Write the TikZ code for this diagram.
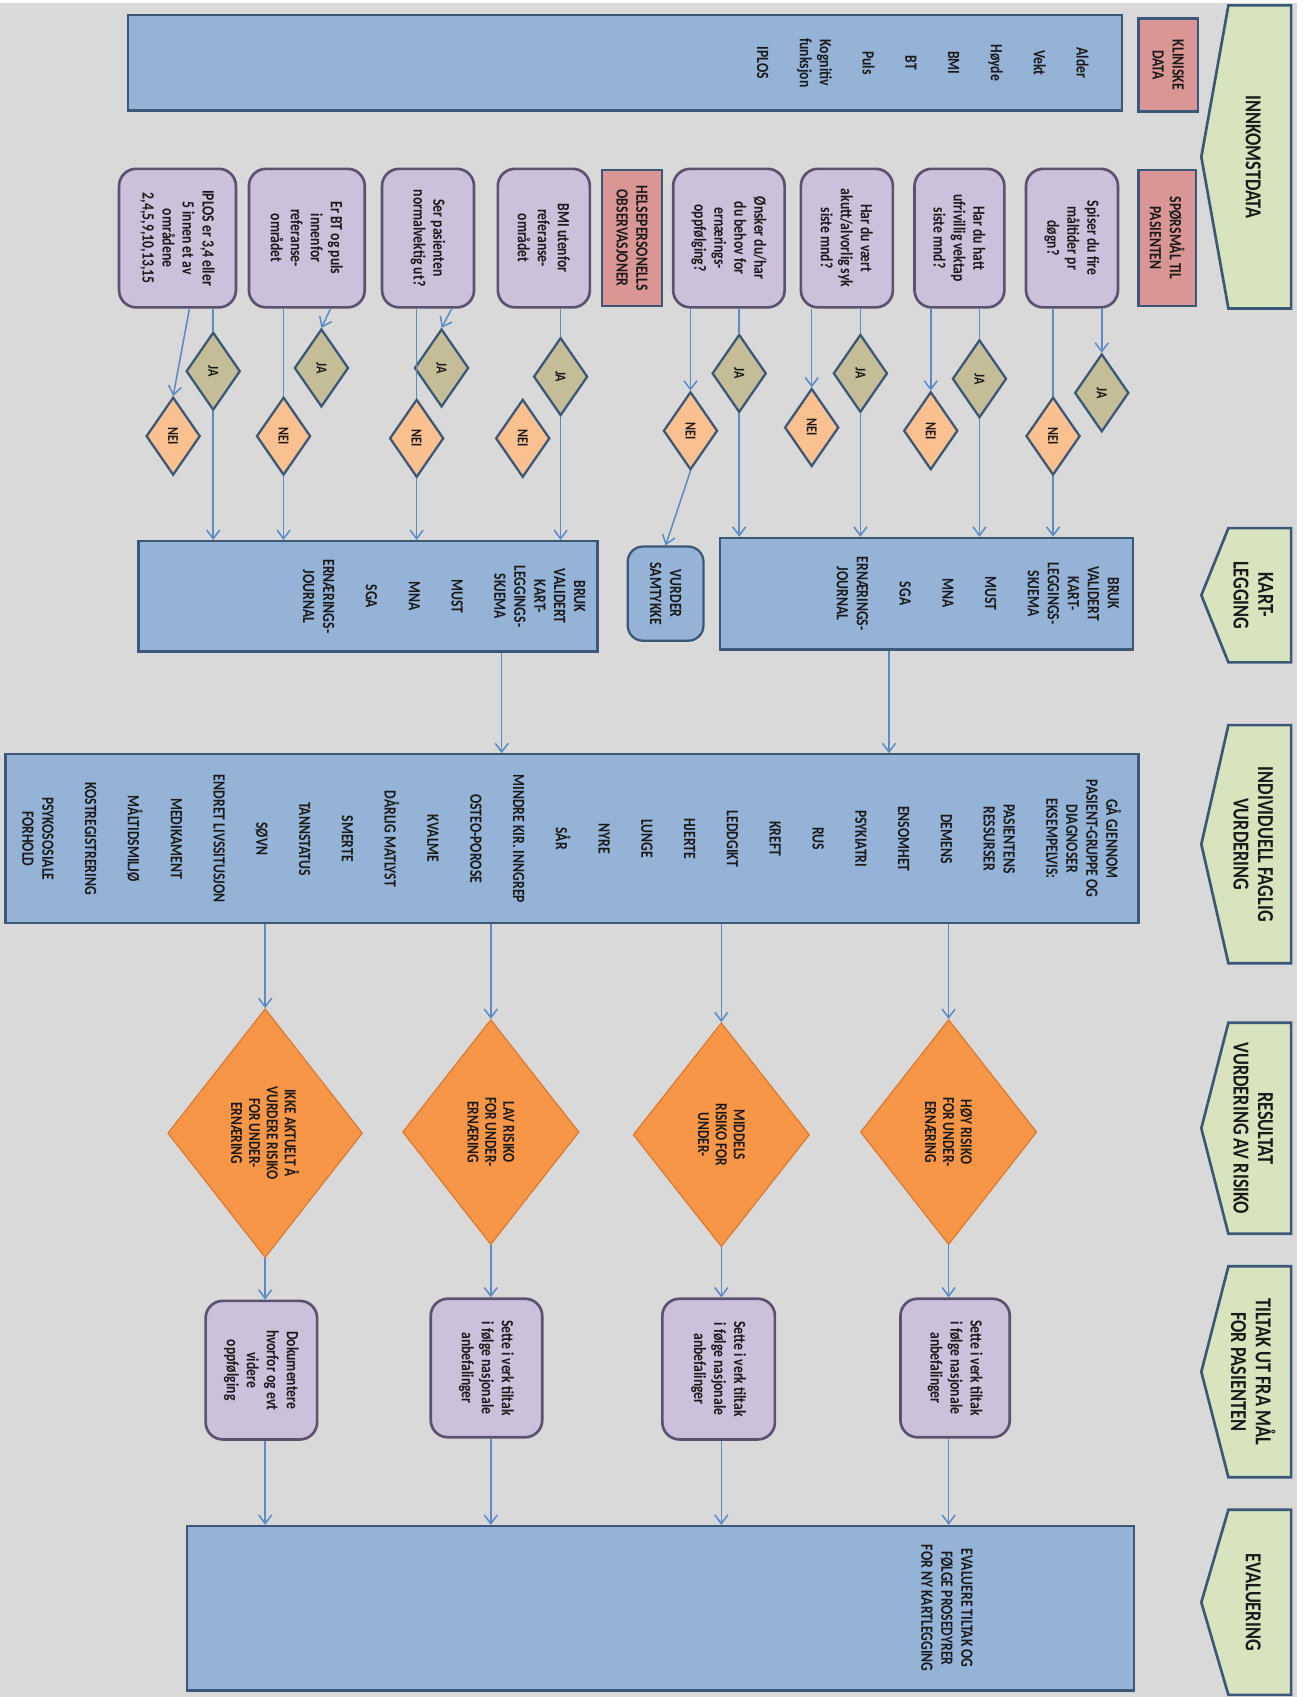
\documentclass[tikz,border=0pt]{standalone}
\usepackage{fontspec}
\newfontfamily\chartfont{Carlito}[FakeStretch=0.8]
\usetikzlibrary{positioning,arrows.meta,shapes.geometric,calc}
\definecolor{bg}{HTML}{D9D9D9}
\definecolor{edge}{HTML}{3B5878}
\definecolor{hdrfill}{HTML}{D7E4BD}
\definecolor{boxfill}{HTML}{95B3D7}
\definecolor{redfill}{HTML}{D99694}
\definecolor{qfill}{HTML}{CCC1DA}
\definecolor{qedge}{HTML}{5B5270}
\definecolor{jafill}{HTML}{C4BD97}
\definecolor{neifill}{HTML}{FAC090}
\definecolor{riskfill}{HTML}{F79646}
\definecolor{riskedge}{HTML}{D9782F}
\definecolor{wire}{HTML}{5B8BC6}
\definecolor{ink}{HTML}{1A1A1A}
\newcommand{\ngap}{\\[12pt]}
\tikzset{
  >={Straight Barb[length=1.6mm,width=2.4mm]},
  txt/.style={font=\chartfont\bfseries\fontsize{9}{10.5}\selectfont, text=ink, align=center},
  boxsize/.style 2 args={minimum width=#1*0.02cm, minimum height=#2*0.02cm},
  hdr/.style={draw=edge, line width=1.4pt, fill=hdrfill},
  hdrtxt/.style={font=\chartfont\bfseries\fontsize{12}{13}\selectfont, text=ink, align=center},
  datbox/.style={draw=edge, line width=1.2pt, fill=boxfill, inner sep=0pt},
  redbox/.style={txt, draw=edge, line width=1.2pt, fill=redfill, inner sep=0pt},
  qbox/.style={txt, draw=qedge, line width=1.4pt, fill=qfill, rounded corners=9pt, inner sep=0pt},
  ja/.style={diamond, txt, draw=edge, line width=1.2pt, fill=jafill, inner sep=0pt,
             boxsize={72}{50}, font=\chartfont\bfseries\fontsize{8}{9}\selectfont},
  nei/.style={ja, fill=neifill},
  risk/.style={diamond, txt, fill=riskfill, draw=riskedge, line width=0.6pt, inner sep=0pt,
               font=\chartfont\bfseries\fontsize{8.8}{9.4}\selectfont},
  con/.style={draw=wire, line width=0.8pt},
  arr/.style={con, ->},
}
\begin{document}
\begin{tikzpicture}[x=0.02cm, y=0.02cm]
\begin{scope}[rotate=-90, transform shape]
  \useasboundingbox (0,0) rectangle (1568,1207);
  \fill[white] (0,0) rectangle (1568,1207);
  \fill[bg] (3,0) rectangle (1568,1198);
  % phase headers
  \foreach \a/\b/\t [count=\i] in {5/285/INNKOMSTDATA, 488/612/{KART-\\LEGGING},
      670/890/{INDIVIDUELL FAGLIG\\VURDERING}, 945/1140/{RESULTAT\\VURDERING AV RISIKO},
      1170/1365/{TILTAK UT FRA MÅL\\FOR PASIENTEN}, 1395/1566/EVALUERING}{
    \draw[hdr] (\a,1193) -- (\b,1193) -- (\b,1135) -- ({(\a+\b)/2},1110) -- (\a,1135) -- cycle;
    \node[hdrtxt] (hd\i) at ({(\a+\b)/2},1158) {\t};
  }
  % innkomstdata
  \node[redbox, boxsize={86}{55}] (kd) at (60,1079.5) {KLINISKE\\DATA};
  \node[datbox, boxsize={88}{919}] (klin) at (58,577.5) {};
  \node[txt, anchor=north] (klint) at (58,1012) {Alder\ngap Vekt\ngap Høyde\ngap BMI\ngap BT\ngap Puls\ngap Kognitiv\\funksjon\ngap IPLOS};
  \node[redbox, boxsize={126}{53}] (sp) at (220,1078.5) {SPØRSMÅL TIL\\PASIENTEN};
  \node[qbox, boxsize={128}{85}] (q1) at (220,990.5) {Spiser du fire\\måltider pr\\døgn?};
  \node[qbox, boxsize={128}{83}] (q2) at (220,886.5) {Har du hatt\\ufrivillig vektap\\siste mnd?};
  \node[qbox, boxsize={128}{85}] (q3) at (220,782.5) {Har du vært\\akutt/alvorlig syk\\siste mnd?};
  \node[qbox, boxsize={128}{103}] (q4) at (220,673.5) {Ønsker du/har\\du behov for\\ernærings-\\oppfølging?};
  \node[redbox, boxsize={126}{56}] (ho) at (220,584) {HELSEPERSONELLS\\OBSERVASJONER};
  \node[qbox, boxsize={128}{85}] (q5) at (220,502.5) {BMI utenfor\\referanse-\\området};
  \node[qbox, boxsize={128}{85}] (q6) at (220,395.5) {Ser pasienten\\normalvektig ut?};
  \node[qbox, boxsize={128}{107}] (q7) at (220,283.5) {Er BT og puls\\innenfor\\referanse-\\området};
  \node[qbox, boxsize={128}{108}] (q8) at (220,164) {IPLOS er 3,4 eller\\5 innen et av\\områdene\\2,4,5,9,10,13,15};
  % svar
  \node[ja] (ja1) at (363,1018) {JA};
  \node[nei] (ne1) at (403,973) {NEI};
  \node[ja] (ja2) at (350,905) {JA};
  \node[nei] (ne2) at (398,860) {NEI};
  \node[ja] (ja3) at (345,795) {JA};
  \node[nei] (ne3) at (395,750) {NEI};
  \node[ja] (ja4) at (345,683) {JA};
  \node[nei] (ne4) at (398,638) {NEI};
  \node[ja] (ja5) at (348,518) {JA};
  \node[nei] (ne5) at (405,483) {NEI};
  \node[ja] (ja6) at (340,408) {JA};
  \node[nei] (ne6) at (405,385) {NEI};
  \node[ja] (ja7) at (340,297) {JA};
  \node[nei] (ne7) at (403,262) {NEI};
  \node[ja] (ja8) at (343,197) {JA};
  \node[nei] (ne8) at (403,160) {NEI};
  % kartlegging
  \node[datbox, boxsize={103}{382}] (kart1) at (548.5,856) {};
  \node[txt, anchor=north] (kart1t) at (548.5,1040) {BRUK\\VALIDERT\\KART-\\LEGGINGS-\\SKJEMA\ngap MUST\ngap MNA\ngap SGA\ngap ERNÆRINGS-\\JOURNAL};
  \node[datbox, txt, rounded corners=8pt, boxsize={87}{70}] (sam) at (548.5,615) {VURDER\\SAMTYKKE};
  \node[datbox, boxsize={102}{424}] (kart2) at (551,340) {};
  \node[txt, anchor=north] (kart2t) at (551,547) {BRUK\\VALIDERT\\KART-\\LEGGINGS-\\SKJEMA\ngap MUST\ngap MNA\ngap SGA\ngap ERNÆRINGS-\\JOURNAL};
  % individuell vurdering
  \node[datbox, boxsize={156}{1047}] (indiv) at (775,528.5) {};
  \node[txt, anchor=north] (indivt) at (775,1042) {GÅ GJENNOM\\PASIENT-GRUPPE OG\\DIAGNOSER\\EKSEMPELVIS:\ngap PASIENTENS\\RESSURSER\ngap DEMENS\ngap ENSOMHET\ngap PSYKIATRI\ngap RUS\ngap KREFT\ngap LEDDGIKT\ngap HJERTE\ngap LUNGE\ngap NYRE\ngap SÅR\ngap MINDRE KIR. INNGREP\ngap OSTEO-POROSE\ngap KVALME\ngap DÅRLIG MATLYST\ngap SMERTE\ngap TANNSTATUS\ngap SØVN\ngap ENDRET LIVSSITUSJON\ngap MEDIKAMENT\ngap MÅLTIDSMILJØ\ngap KOSTREGISTRERING\ngap PSYKOSOSIALE\\FORHOLD};
  % risiko
  \node[risk, boxsize={208}{163}] (hoy) at (1046,876.5) {HØY RISIKO\\FOR UNDER-\\ERNÆRING};
  \node[risk, boxsize={207}{163}] (mid) at (1048.5,666.5) {MIDDELS\\RISIKO FOR\\UNDER-};
  \node[risk, boxsize={208}{163}] (lav) at (1046,453.5) {LAV RISIKO\\FOR UNDER-\\ERNÆRING};
  \node[risk, boxsize={230}{180}] (ikke) at (1047,245) {IKKE AKTUELT Å\\VURDERE RISIKO\\FOR UNDER-\\ERNÆRING};
  % tiltak
  \node[qbox, boxsize={128}{101}] (t1) at (1264,882.5) {Sette i verk tiltak\\i følge nasjonale\\anbefalinger};
  \node[qbox, boxsize={130}{104}] (t2) at (1265,664) {Sette i verk tiltak\\i følge nasjonale\\anbefalinger};
  \node[qbox, boxsize={128}{103}] (t3) at (1264,449.5) {Sette i verk tiltak\\i følge nasjonale\\anbefalinger};
  \node[qbox, boxsize={128}{103}] (t4) at (1266,241.5) {Dokumentere\\hvorfor og evt\\videre\\oppfølging};
  % evaluering
  \node[datbox, boxsize={152}{875}] (ev) at (1486,610.5) {};
  \node[txt] (evt) at (1486,875) {EVALUERE TILTAK OG\\FØLGE PROSEDYRER\\FOR NY KARTLEGGING};

  % spørsmål til pasienten
  \draw[arr] (q1.east |- ja1) -- (ja1.west);
  \draw[con] (q1.east |- ne1) -- (ne1.west);
  \draw[arr] (ne1.east) -- (kart1.west |- ne1);
  \draw[con] (q2.east |- ja2) -- (ja2.west);
  \draw[arr] (ja2.east) -- (kart1.west |- ja2);
  \draw[arr] (q2.east |- ne2) -- (ne2.west);
  \draw[con] (q3.east |- ja3) -- (ja3.west);
  \draw[arr] (ja3.east) -- (kart1.west |- ja3);
  \draw[arr] (q3.east |- ne3) -- (ne3.west);
  \draw[con] (q4.east |- ja4) -- (ja4.west);
  \draw[arr] (ja4.east) -- (kart1.west |- ja4);
  \draw[arr] (q4.east |- ne4) -- (ne4.west);
  \draw[arr] (ne4.east) -- (sam.west);
  % helsepersonells observasjoner
  \draw[con] (q5.east |- ja5) -- (ja5.west);
  \draw[arr] (ja5.east) -- (kart2.west |- ja5);
  \draw[arr] ($(q6.east)!0.5!(q6.north east)$) -- (ja6.west);
  \draw[con] (q6.east |- ne6) -- (ne6.west);
  \draw[arr] (ne6.east) -- (kart2.west |- ne6);
  \draw[arr] ($(q7.east)!0.4!(q7.north east)$) -- (ja7.west);
  \draw[con] (q7.east |- ne7) -- (ne7.west);
  \draw[arr] (ne7.east) -- (kart2.west |- ne7);
  \draw[con] (q8.east |- ja8) -- (ja8.west);
  \draw[arr] (ja8.east) -- (kart2.west |- ja8);
  \draw[arr] ($(q8.east)!0.2!(q8.north east)$) -- (ne8.west);
  % videre flyt
  \coordinate (k1) at ($(kart1.east)!0.18!(kart1.south east)$);
  \coordinate (k2) at ($(kart2.east)!0.58!(kart2.north east)$);
  \draw[arr] (k1) -- (indiv.west |- k1);
  \draw[arr] (k2) -- (indiv.west |- k2);
  \foreach \r/\t in {hoy/t1, mid/t2, lav/t3, ikke/t4}{
    \draw[arr] (indiv.east |- \r) -- (\r.west);
    \draw[arr] (\r.east) -- (\t.west |- \r);
    \draw[arr] (\t.east |- \r) -- (ev.west |- \r);
  }
\end{scope}
\end{tikzpicture}
\end{document}
